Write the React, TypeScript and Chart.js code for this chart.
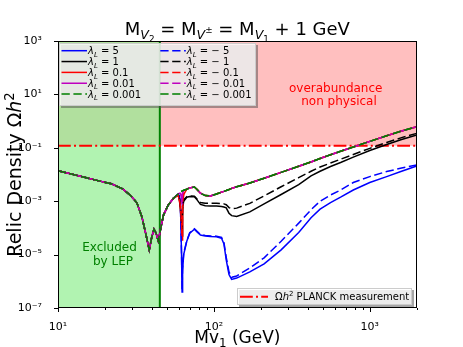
import React, { useEffect, useRef } from 'react';
import { Chart, registerables } from 'chart.js';

Chart.register(...registerables);

const FONT = '"DejaVu Sans", "Liberation Sans", sans-serif';

// Low-mass part: all lambda_L curves coincide (GeV, Omega h^2)
const massLow = [10, 12, 15, 18, 22, 26, 29, 32, 34.5, 36.5, 38.5, 40, 41.3, 42.6, 44, 45.8, 47.5, 51, 55];
const omegaLow = [1.39e-2, 1.06e-2, 7.66e-3, 5.89e-3, 4.47e-3, 2.88e-3, 1.7e-3, 8.9e-4, 2.63e-4, 6.3e-5, 1.5e-5, 4.68e-5, 8.9e-5, 6.3e-5, 3.24e-5, 1.1e-4, 3.02e-4, 7.24e-4, 1.29e-3];

// Higher masses, where the curves separate
const massHigh = [59, 60, 61, 62, 62.5, 63, 64, 67, 70, 75, 78, 82, 88, 95, 104, 112, 116, 120, 125, 130, 140, 170, 210, 270, 350, 420, 480, 560, 650, 784, 1000, 1283, 1600, 2000];

const omegaLamP5 = [1.82e-3, 1.66e-3, 7.94e-4, 1.0e-5, 3.98e-7, 2.51e-6, 1.0e-5, 3.16e-5, 6.31e-5, 8.91e-5, 7.08e-5, 5.37e-5, 5.01e-5, 4.79e-5, 4.68e-5, 4.07e-5, 2.51e-5, 6.31e-6, 1.78e-6, 1.17e-6, 1.32e-6, 2.24e-6, 4.47e-6, 1.51e-5, 6.76e-5, 2.4e-4, 5.01e-4, 8.91e-4, 1.41e-3, 2.63e-3, 5.01e-3, 8.32e-3, 1.32e-2, 2.09e-2];
const omegaLamP1 = [1.74e-3, 1.26e-3, 5.01e-4, 1.26e-4, 5.01e-5, 5.01e-4, 1.0e-3, 1.41e-3, 1.51e-3, 1.48e-3, 1.12e-3, 7.59e-4, 6.76e-4, 6.61e-4, 6.61e-4, 6.31e-4, 6.03e-4, 5.62e-4, 3.55e-4, 2.88e-4, 2.69e-4, 3.98e-4, 7.94e-4, 1.78e-3, 4.17e-3, 8.91e-3, 1.32e-2, 2.0e-2, 2.82e-2, 4.47e-2, 7.94e-2, 0.132, 0.204, 0.302];
const omegaLamP01 = [1.66e-3, 1.12e-3, 5.01e-4, 1.26e-4, 3.55e-5, 6.31e-4, 1.78e-3, 2.82e-3, 3.16e-3, 3.39e-3, 2.75e-3, 2.0e-3, 1.62e-3, 1.58e-3, 1.86e-3, 2.19e-3, 2.34e-3, 2.51e-3, 2.75e-3, 3.02e-3, 3.47e-3, 4.79e-3, 7.24e-3, 1.2e-2, 2.04e-2, 2.95e-2, 3.98e-2, 5.5e-2, 7.41e-2, 0.107, 0.174, 0.282, 0.427, 0.617];
const omegaLamP001 = [1.86e-3, 2.0e-3, 2.0e-3, 1.41e-3, 7.94e-4, 2.0e-3, 2.51e-3, 2.82e-3, 3.16e-3, 3.39e-3, 2.75e-3, 2.0e-3, 1.62e-3, 1.58e-3, 1.86e-3, 2.19e-3, 2.34e-3, 2.51e-3, 2.75e-3, 3.02e-3, 3.47e-3, 4.79e-3, 7.24e-3, 1.2e-2, 2.04e-2, 2.95e-2, 3.98e-2, 5.5e-2, 7.41e-2, 0.107, 0.174, 0.282, 0.427, 0.617];
const omegaLamP0001 = [1.86e-3, 2.04e-3, 2.24e-3, 2.34e-3, 2.4e-3, 2.45e-3, 2.57e-3, 2.82e-3, 3.16e-3, 3.39e-3, 2.75e-3, 2.0e-3, 1.62e-3, 1.58e-3, 1.86e-3, 2.19e-3, 2.34e-3, 2.51e-3, 2.75e-3, 3.02e-3, 3.47e-3, 4.79e-3, 7.24e-3, 1.2e-2, 2.04e-2, 2.95e-2, 3.98e-2, 5.5e-2, 7.41e-2, 0.107, 0.174, 0.282, 0.427, 0.617];
const omegaLamM5 = [1.82e-3, 1.66e-3, 7.94e-4, 1.26e-5, 5.01e-7, 3.16e-6, 1.12e-5, 3.31e-5, 6.61e-5, 9.33e-5, 7.41e-5, 5.62e-5, 5.25e-5, 5.01e-5, 4.9e-5, 4.37e-5, 2.82e-5, 7.94e-6, 2.24e-6, 1.41e-6, 1.58e-6, 3.16e-6, 7.59e-6, 3.16e-5, 1.51e-4, 4.79e-4, 1.0e-3, 1.7e-3, 2.63e-3, 5.01e-3, 8.32e-3, 1.29e-2, 1.74e-2, 2.29e-2];
const omegaLamM1 = [1.78e-3, 1.32e-3, 6.31e-4, 2.0e-4, 7.94e-5, 6.31e-4, 1.12e-3, 1.48e-3, 1.58e-3, 1.55e-3, 1.2e-3, 8.91e-4, 8.32e-4, 8.32e-4, 8.32e-4, 8.13e-4, 7.94e-4, 7.41e-4, 5.75e-4, 5.25e-4, 5.5e-4, 8.32e-4, 1.58e-3, 3.47e-3, 7.59e-3, 1.32e-2, 1.91e-2, 2.69e-2, 3.72e-2, 5.62e-2, 9.55e-2, 0.158, 0.24, 0.347];
const omegaLamM01 = [1.74e-3, 1.26e-3, 6.31e-4, 1.78e-4, 5.01e-5, 7.94e-4, 1.91e-3, 2.82e-3, 3.16e-3, 3.39e-3, 2.75e-3, 2.0e-3, 1.62e-3, 1.58e-3, 1.86e-3, 2.19e-3, 2.34e-3, 2.51e-3, 2.75e-3, 3.02e-3, 3.47e-3, 4.79e-3, 7.24e-3, 1.2e-2, 2.04e-2, 2.95e-2, 3.98e-2, 5.5e-2, 7.41e-2, 0.107, 0.174, 0.282, 0.427, 0.617];
const omegaLamM001 = [1.86e-3, 2.0e-3, 2.04e-3, 1.51e-3, 8.91e-4, 2.09e-3, 2.51e-3, 2.82e-3, 3.16e-3, 3.39e-3, 2.75e-3, 2.0e-3, 1.62e-3, 1.58e-3, 1.86e-3, 2.19e-3, 2.34e-3, 2.51e-3, 2.75e-3, 3.02e-3, 3.47e-3, 4.79e-3, 7.24e-3, 1.2e-2, 2.04e-2, 2.95e-2, 3.98e-2, 5.5e-2, 7.41e-2, 0.107, 0.174, 0.282, 0.427, 0.617];
const omegaLamM0001 = [1.86e-3, 2.04e-3, 2.24e-3, 2.34e-3, 2.4e-3, 2.45e-3, 2.57e-3, 2.82e-3, 3.16e-3, 3.39e-3, 2.75e-3, 2.0e-3, 1.62e-3, 1.58e-3, 1.86e-3, 2.19e-3, 2.34e-3, 2.51e-3, 2.75e-3, 3.02e-3, 3.47e-3, 4.79e-3, 7.24e-3, 1.2e-2, 2.04e-2, 2.95e-2, 3.98e-2, 5.5e-2, 7.41e-2, 0.107, 0.174, 0.282, 0.427, 0.617];

const lambdaLabels = ['5', '1', '0.1', '0.01', '0.001', '\u2212 5', '\u2212 1', '\u2212 0.1', '\u2212 0.01', '\u2212 0.001'];
const lambdaColors = ['#0000ff', '#000000', '#ff0000', '#bf00bf', '#008000', '#0000ff', '#000000', '#ff0000', '#bf00bf', '#008000'];
const lambdaDashed = [false, false, false, false, true, true, true, true, true, true];
const lambdaSeries = [omegaLamP5, omegaLamP1, omegaLamP01, omegaLamP001, omegaLamP0001, omegaLamM5, omegaLamM1, omegaLamM01, omegaLamM001, omegaLamM0001];

const PLANCK_OMEGA = 0.12;
const LEP_LIMIT = 45;
const X_MIN = 10, X_MAX = 2000, Y_MIN = 1e-7, Y_MAX = 1e3;

const xTickValues = [10, 100, 1000];
const xTickLabels = ['10\u00b9', '10\u00b2', '10\u00b3'];
const xMinorTicks = [20, 30, 40, 50, 60, 70, 80, 90, 200, 300, 400, 500, 600, 700, 800, 900, 2000];
const yTickValues = [1e-7, 1e-5, 1e-3, 1e-1, 1e1, 1e3];
const yTickLabels = ['10\u207b\u2077', '10\u207b\u2075', '10\u207b\u00b3', '10\u207b\u00b9', '10\u00b9', '10\u00b3'];

const DASH = [8.3, 3.6];
const DASHDOT = [12.8, 3.2, 2, 3.2];

type Seg = { t: string; size: number; dy?: number; it?: boolean };
const segFont = (s: Seg) => `${s.it ? 'italic ' : ''}${s.size}px ${FONT}`;

function drawRich(ctx: CanvasRenderingContext2D, segs: Seg[], x: number, y: number, align: 'left' | 'center' = 'left') {
  let w = 0;
  for (const s of segs) { ctx.font = segFont(s); w += ctx.measureText(s.t).width; }
  let cx = align === 'center' ? x - w / 2 : x;
  ctx.textAlign = 'left';
  ctx.textBaseline = 'alphabetic';
  for (const s of segs) {
    ctx.font = segFont(s);
    ctx.fillText(s.t, cx, y + (s.dy || 0));
    cx += ctx.measureText(s.t).width;
  }
}

function legendBox(ctx: CanvasRenderingContext2D, x: number, y: number, w: number, h: number) {
  ctx.save();
  ctx.fillStyle = 'rgba(77,77,77,0.5)';
  ctx.fillRect(x + 2, y + 2, w, h);
  ctx.fillStyle = 'rgba(255,255,255,0.8)';
  ctx.fillRect(x, y, w, h);
  ctx.strokeStyle = '#cccccc';
  ctx.lineWidth = 1;
  ctx.strokeRect(x + 0.5, y + 0.5, w - 1, h - 1);
  ctx.restore();
}

function handle(ctx: CanvasRenderingContext2D, x0: number, x1: number, y: number, color: string, dash: number[], lw: number) {
  ctx.save();
  ctx.strokeStyle = color;
  ctx.lineWidth = lw;
  ctx.setLineDash(dash);
  ctx.beginPath();
  ctx.moveTo(x0, y);
  ctx.lineTo(x1, y);
  ctx.stroke();
  ctx.restore();
}

const decorations = {
  id: 'decorations',
  afterDatasetsDraw(chart: any) {
    const { ctx, chartArea: a, scales } = chart;
    ctx.save();
    ctx.strokeStyle = '#000';
    ctx.lineWidth = 1;
    ctx.strokeRect(Math.round(a.left) + 0.5, Math.round(a.top) + 0.5, Math.round(a.right - a.left) - 1, Math.round(a.bottom - a.top) - 1);
    const bottom = Math.round(a.bottom);
    const left = Math.round(a.left);
    ctx.beginPath();
    for (const v of xTickValues) {
      const px = Math.round(scales.x.getPixelForValue(v)) + 0.5;
      ctx.moveTo(px, bottom); ctx.lineTo(px, bottom + 4);
    }
    for (const v of xMinorTicks) {
      const px = Math.round(scales.x.getPixelForValue(v)) + 0.5;
      ctx.moveTo(px, bottom); ctx.lineTo(px, bottom + 2);
    }
    for (const v of yTickValues) {
      const py = Math.round(scales.y.getPixelForValue(v)) + 0.5;
      ctx.moveTo(left, py); ctx.lineTo(left - 4, py);
    }
    ctx.stroke();
    ctx.restore();
  },
  afterDraw(chart: any) {
    const { ctx, chartArea: a } = chart;
    ctx.save();
    ctx.fillStyle = '#000';
    const cx = (a.left + a.right) / 2;
    drawRich(ctx, [
      { t: 'M', size: 18 }, { t: 'V', size: 12.6, dy: 3.5, it: true }, { t: '2', size: 8.8, dy: 6.5 },
      { t: ' = M', size: 18 }, { t: 'V', size: 12.6, dy: 3.5, it: true }, { t: '\u00b1', size: 8.8, dy: -2 },
      { t: ' = M', size: 18 }, { t: 'V', size: 12.6, dy: 3.5, it: true }, { t: '1', size: 8.8, dy: 6.5 },
      { t: ' + 1 GeV', size: 18 },
    ], cx, 35, 'center');
    drawRich(ctx, [{ t: 'Mv', size: 17 }, { t: '1', size: 11.9, dy: 3.5 }, { t: ' (GeV)', size: 17 }], cx, 343, 'center');
    ctx.save();
    ctx.translate(21, (a.top + a.bottom) / 2);
    ctx.rotate(-Math.PI / 2);
    drawRich(ctx, [{ t: 'Relic Density \u03a9', size: 19 }, { t: 'h', size: 19, it: true }, { t: '2', size: 13.3, dy: -7.5 }], 0, 0, 'center');
    ctx.restore();

    ctx.fillStyle = '#008000';
    drawRich(ctx, [{ t: 'Excluded', size: 12 }], 109.5, 251, 'center');
    drawRich(ctx, [{ t: 'by LEP', size: 12 }], 113, 264.5, 'center');
    ctx.fillStyle = '#ff0000';
    drawRich(ctx, [{ t: 'overabundance', size: 12 }], 335.7, 91.5, 'center');
    drawRich(ctx, [{ t: 'non physical', size: 12 }], 339, 104.5, 'center');

    legendBox(ctx, 59, 43, 197, 63);
    for (let i = 0; i < 10; i++) {
      const col = i < 5 ? 0 : 1;
      const row = i % 5;
      const y = 50.7 + row * 10.85;
      const hx0 = col === 0 ? 61.5 : 160.3;
      handle(ctx, hx0, hx0 + 25.5, y, lambdaColors[i], lambdaDashed[i] ? DASH : [], 1.5);
      ctx.fillStyle = '#000';
      drawRich(ctx, [
        { t: '\u03bb', size: 10, it: true }, { t: 'L', size: 7, dy: 2.5, it: true },
        { t: ' = ' + lambdaLabels[i], size: 10 },
      ], hx0 + 26.5, y + 3.6);
    }

    legendBox(ctx, 237, 288, 175, 17);
    handle(ctx, 240, 268, 296.7, '#ff0000', DASHDOT, 2);
    ctx.fillStyle = '#000';
    drawRich(ctx, [{ t: '\u03a9', size: 10 }, { t: 'h', size: 10, it: true }, { t: '2', size: 7, dy: -4 }, { t: ' PLANCK measurement', size: 10 }], 275, 300.3);
    ctx.restore();
  },
};

function buildConfig(): any {
  const curves = lambdaSeries.map((hi, i) => ({
    label: 'lambda_L = ' + lambdaLabels[i],
    data: [...massLow.map((m, k) => ({ x: m, y: omegaLow[k] })), ...massHigh.map((m, k) => ({ x: m, y: hi[k] }))],
    borderColor: lambdaColors[i],
    borderWidth: 1.5,
    borderDash: lambdaDashed[i] ? DASH : [],
    pointRadius: 0,
    fill: false,
    tension: 0,
    order: 10 - i,
  }));
  return {
    type: 'line',
    data: {
      datasets: [
        {
          label: 'overabundance',
          data: [{ x: X_MIN, y: PLANCK_OMEGA }, { x: X_MAX, y: PLANCK_OMEGA }],
          borderWidth: 0, pointRadius: 0, fill: 'end', backgroundColor: 'rgba(255,0,0,0.25)', order: 100,
        },
        {
          label: 'LEP',
          data: [{ x: X_MIN, y: Y_MAX }, { x: LEP_LIMIT, y: Y_MAX }],
          borderWidth: 0, pointRadius: 0, fill: 'start', backgroundColor: 'rgba(144,238,144,0.7)', order: 99,
        },
        {
          label: 'LEP line',
          data: [{ x: LEP_LIMIT, y: Y_MIN }, { x: LEP_LIMIT, y: Y_MAX }],
          borderColor: '#008000', borderWidth: 2, pointRadius: 0, fill: false, order: 98,
        },
        {
          label: 'PLANCK',
          data: [{ x: X_MIN, y: PLANCK_OMEGA }, { x: X_MAX, y: PLANCK_OMEGA }],
          borderColor: '#ff0000', borderWidth: 2, borderDash: DASHDOT, pointRadius: 0, fill: false, order: 97,
        },
        ...curves,
      ],
    },
    options: {
      animation: false,
      responsive: false,
      events: [],
      layout: { padding: { left: 0, top: 41, right: 46.3, bottom: 0 } },
      plugins: { legend: { display: false }, title: { display: false }, tooltip: { enabled: false } },
      scales: {
        x: {
          type: 'logarithmic', min: X_MIN, max: X_MAX,
          grid: { display: false }, border: { display: false },
          afterBuildTicks: (s: any) => { s.ticks = xTickValues.map((v) => ({ value: v })); },
          afterFit: (s: any) => { s.height = 39; },
          ticks: {
            autoSkip: false, maxRotation: 0, padding: 5, color: '#000',
            font: { family: FONT, size: 11 },
            callback: (v: any) => { const k = xTickValues.indexOf(v); return k >= 0 ? xTickLabels[k] : ''; },
          },
        },
        y: {
          type: 'logarithmic', min: Y_MIN, max: Y_MAX,
          grid: { display: false }, border: { display: false },
          afterBuildTicks: (s: any) => { s.ticks = yTickValues.map((v) => ({ value: v })); },
          afterFit: (s: any) => { s.width = 58; },
          ticks: {
            autoSkip: false, padding: 8, color: '#000',
            font: { family: FONT, size: 11 },
            callback: (v: any) => { const k = yTickValues.indexOf(v); return k >= 0 ? yTickLabels[k] : ''; },
          },
        },
      },
    },
    plugins: [decorations],
  };
}

export default function App() {
  const ref = useRef<HTMLCanvasElement>(null);
  useEffect(() => {
    document.body.style.margin = '0';
    const chart = new Chart(ref.current as HTMLCanvasElement, buildConfig());
    return () => chart.destroy();
  }, []);
  return (
    <div style={{ position: 'absolute', left: 0, top: 0, width: 463, height: 347 }}>
      <canvas ref={ref} width={463} height={347} style={{ display: 'block' }} />
    </div>
  );
}
